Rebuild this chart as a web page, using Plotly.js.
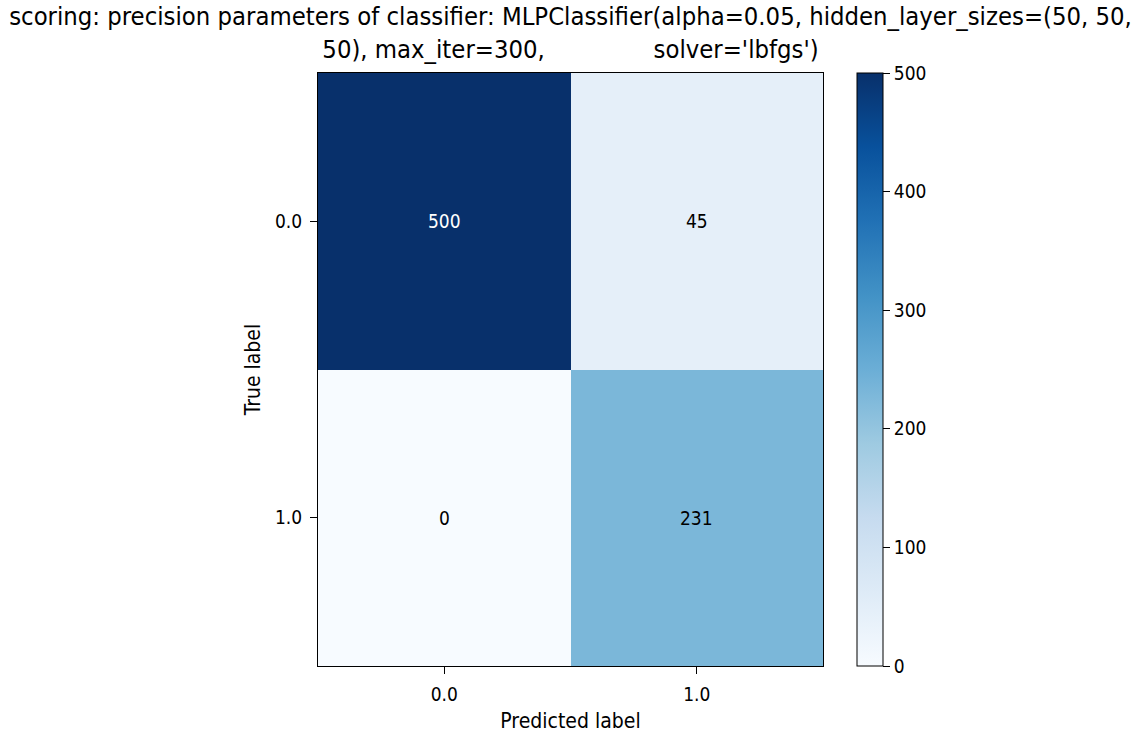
<!DOCTYPE html>
<html>
<head>
<meta charset="utf-8">
<script src="https://cdn.plot.ly/plotly-3.0.1.min.js"></script>
<style>html,body{margin:0;padding:0;background:#fff;}</style>
</head>
<body>
<div id="chart" style="width:1141px;height:736px;"></div>
<script>
const predictedLabels = [0, 1];
const trueLabels = [0, 1];
const tickText = ['0.0', '1.0'];
const counts = [
  [500, 45],
  [0, 231]
];
const colorTicks = [0, 100, 200, 300, 400, 500];

const blues = [
  [0.0, '#f7fbff'], [0.125, '#deebf7'], [0.25, '#c6dbef'], [0.375, '#9ecae1'],
  [0.5, '#6baed6'], [0.625, '#4292c6'], [0.75, '#2171b5'], [0.875, '#08519c'], [1.0, '#08306b']
];

const FONT = "'DejaVu Sans Condensed', 'DejaVu Sans', sans-serif";
const zmax = Math.max(...counts.flat());
const annotations = [];
trueLabels.forEach((ty, i) => {
  predictedLabels.forEach((px, j) => {
    const v = counts[i][j];
    annotations.push({
      x: px, y: ty, xref: 'x', yref: 'y', text: String(v), showarrow: false,
      font: {family: FONT, size: 19, color: v > zmax / 2 ? '#ffffff' : '#000000'}
    });
  });
});

const sp = '&nbsp;'.repeat(15);
const data = [{
  type: 'heatmap',
  x: predictedLabels, y: trueLabels, z: counts,
  colorscale: blues, zmin: 0, zmax: zmax,
  showscale: true, hoverinfo: 'skip',
  colorbar: {
    x: 1.067, xanchor: 'left', xref: 'paper',
    y: 0, yanchor: 'bottom', len: 1, lenmode: 'fraction',
    thickness: 26, thicknessmode: 'pixels',
    outlinewidth: 1, outlinecolor: '#000',
    tickvals: colorTicks, ticks: 'outside', ticklen: 7, tickcolor: '#000',
    tickfont: {family: FONT, size: 19, color: '#000'},
    ticklabelstandoff: 4,
    xpad: 0, ypad: 0
  }
}];

const layout = {
  width: 1141, height: 736,
  margin: {l: 318, r: 318, t: 73, b: 70},
  paper_bgcolor: '#fff', plot_bgcolor: '#fff',
  font: {family: FONT, color: '#000'},
  title: {
    text: "scoring: precision parameters of classifier: MLPClassifier(alpha=0.05, hidden_layer_sizes=(50, 50,<br>50), max_iter=300," + sp + "solver='lbfgs')",
    font: {family: FONT, size: 25.4, color: '#000'},
    x: 0.5, xanchor: 'center', xref: 'container',
    y: 0.966, yanchor: 'top', yref: 'container'
  },
  xaxis: {
    range: [-0.5, 1.5], tickvals: predictedLabels, ticktext: tickText,
    ticks: 'outside', ticklen: 7, tickcolor: '#000',
    showline: true, linecolor: '#000', linewidth: 1, mirror: true,
    showgrid: false, zeroline: false,
    tickfont: {family: FONT, size: 19},
    ticklabelstandoff: 4,
    title: {text: 'Predicted label', font: {family: FONT, size: 21}, standoff: 9}
  },
  yaxis: {
    range: [1.5, -0.5], tickvals: trueLabels, ticktext: tickText,
    ticks: 'outside', ticklen: 7, tickcolor: '#000',
    showline: true, linecolor: '#000', linewidth: 1, mirror: true,
    showgrid: false, zeroline: false,
    tickfont: {family: FONT, size: 19},
    ticklabelstandoff: 4,
    title: {text: 'True label', font: {family: FONT, size: 21}, standoff: 8}
  },
  annotations: annotations
};

Plotly.newPlot('chart', data, layout, {displayModeBar: false, staticPlot: true});
</script>
</body>
</html>
